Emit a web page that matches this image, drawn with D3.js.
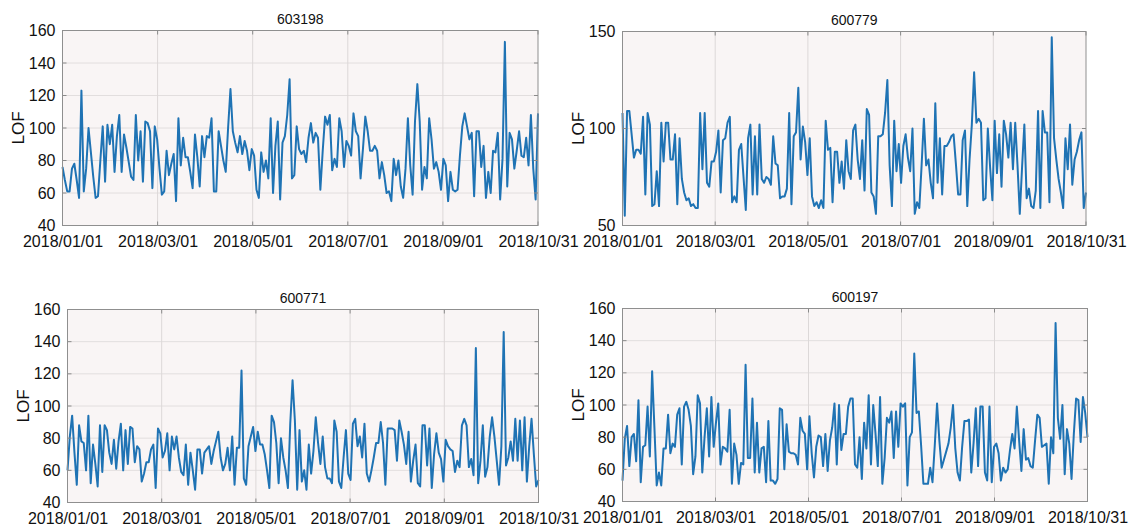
<!DOCTYPE html>
<html>
<head>
<meta charset="utf-8">
<script src="https://cdn.jsdelivr.net/npm/d3@7"></script>
<style>
  html, body { margin: 0; padding: 0; background: #ffffff; }
  svg { display: block; font-family: "Liberation Sans", Arial, Helvetica, sans-serif; }
</style>
</head>
<body>
<svg id="chart" width="1136" height="531"></svg>
<script>
// ---------------- data ----------------
const dateLabels = ["2018/01/01", "2018/03/01", "2018/05/01", "2018/07/01", "2018/09/01", "2018/10/31"];
const titles = ["603198", "600779", "600771", "600197"];

const lof603198 = [
  76,68,61,61,75,78,68,57,123,61,75,100,85,70,57,58,80,101,67,102,90,102,73,95,108,73,96,88,79,70,
  68,108,80,98,67,104,103,98,63,101,93,75,59,61,86,71,78,84,55,106,77,94,82,82,73,63,96,82,64,95,
  82,95,94,106,61,61,98,89,80,73,100,124,
  98,91,85,95,84,92,86,74,87,83,62,57,85,73,80,69,106,60,89,104,56,91,95,108,130,69,71,101,87,84,
  86,79,94,103,91,97,94,62,86,107,102,108,74,81,76,106,98,76,92,89,83,109,98,95,69,87,107,98,86,86,
  89,86,69,79,71,60,
  61,55,81,71,80,64,57,75,106,77,59,104,127,104,62,76,69,106,93,75,79,73,62,81,77,55,73,62,61,62,
  83,101,109,101,93,97,58,98,98,76,89,57,73,60,86,85,97,56,81,153,64,97,93,75,86,98,83,82,94,77,
  108,75,56,109
];

const lof600779 = [
  108,55,109,109,97,85,89,89,87,106,66,108,102,60,61,78,60,103,83,103,103,84,84,97,61,95,74,67,63,64,
  60,61,59,59,108,79,108,72,70,83,83,88,99,67,94,95,103,106,62,65,62,89,92,75,58,95,102,66,96,66,
  102,74,72,75,74,71,96,82,81,64,65,
  65,69,108,61,96,98,121,84,101,93,76,95,65,60,62,59,63,59,104,89,90,62,88,88,72,83,69,94,78,74,
  99,102,84,74,94,68,110,107,67,65,56,96,96,97,108,125,81,60,104,78,92,72,91,97,85,78,100,56,62,59,
  81,105,81,84,72,64,113,72,95,
  66,91,91,93,96,97,82,66,66,94,99,60,84,102,129,103,105,103,63,64,100,80,63,104,77,97,70,104,97,85,
  103,79,103,81,56,80,102,64,69,60,59,68,109,59,109,98,98,62,147,95,84,74,67,59,95,79,102,71,84,88,
  94,98,59,67
];

const lof600771 = [
  60,81,94,71,51,88,78,77,60,94,52,76,64,50,88,59,88,85,71,64,79,61,78,89,60,85,64,87,86,65,
  75,73,53,58,65,65,73,76,49,86,83,68,72,83,60,81,73,81,68,59,57,76,51,71,60,48,73,73,58,71,
  73,75,64,72,78,84,68,60,
  64,74,60,81,51,74,74,122,55,51,75,81,87,72,84,76,76,70,60,49,94,90,77,52,80,68,60,49,89,116,
  91,48,85,53,60,48,76,58,72,93,77,64,81,62,55,55,52,91,84,53,49,68,85,58,54,89,92,75,81,68,
  89,58,53,60,68,77,77,90,77,51,
  86,86,86,85,66,91,84,76,64,84,53,66,76,52,50,88,88,63,86,49,70,83,71,67,53,79,75,73,72,59,
  66,62,88,92,88,62,67,57,136,52,66,88,56,62,81,93,81,66,51,75,146,63,68,78,66,92,66,91,60,93,
  53,75,92,70,50,54
];

const lof600197 = [
  53,79,87,62,80,82,65,103,52,74,75,99,68,121,86,50,58,50,73,73,94,70,76,74,94,98,63,99,102,97,
  87,57,68,106,101,58,80,98,68,105,74,89,101,63,74,73,71,97,51,76,69,51,64,63,125,67,67,104,58,89,
  58,73,74,52,90,53,53,51,54,98,97,
  60,88,71,70,70,69,63,92,84,82,60,93,70,55,74,81,80,62,82,59,78,86,101,63,100,72,82,82,99,104,
  104,63,61,80,54,89,73,106,63,100,82,62,105,51,67,92,89,96,67,96,74,101,99,101,50,80,83,132,95,96,
  75,51,51,51,61,52,75,101,
  78,61,66,71,76,86,100,73,58,53,74,90,90,91,58,76,98,62,99,99,58,53,99,52,74,76,70,53,61,58,
  60,72,82,73,99,78,59,85,66,67,62,61,78,94,92,74,75,76,51,80,70,151,92,79,100,57,85,76,54,82,
  104,103,77,105,95,80
];

const yTicks40to160 = [40, 60, 80, 100, 120, 140, 160];
const yTicks50to150 = [50, 100, 150];

// ---------------- layout ----------------
const panels = [
  { title: titles[0], values: lof603198, yDomain: [40, 160], yTicks: yTicks40to160, box: { l: 62.5, t: 30.5, r: 538, b: 225.5 } },
  { title: titles[1], values: lof600779, yDomain: [50, 150], yTicks: yTicks50to150, box: { l: 622.5, t: 31.5, r: 1086, b: 225.5 } },
  { title: titles[2], values: lof600771, yDomain: [40, 160], yTicks: yTicks40to160, box: { l: 67.5, t: 309.5, r: 538.5, b: 502.5 } },
  { title: titles[3], values: lof600197, yDomain: [40, 160], yTicks: yTicks40to160, box: { l: 622.5, t: 308.5, r: 1087.5, b: 501.5 } }
];

const svg = d3.select("#chart");
const FONT = '"Liberation Sans", Arial, Helvetica, sans-serif';

panels.forEach(p => {
  const { l, t, r, b } = p.box;
  const n = p.values.length;
  const x = d3.scaleLinear().domain([0, n - 1]).range([l, r]);
  const y = d3.scaleLinear().domain(p.yDomain).range([b, t]);
  const xTickVals = dateLabels.map((_, k) => k * (n - 1) / (dateLabels.length - 1));

  const g = svg.append("g");

  // plot background
  g.append("rect").attr("x", l).attr("y", t).attr("width", r - l).attr("height", b - t)
    .attr("fill", "#f9f5f5");

  // grid
  g.append("g").selectAll("line").data(p.yTicks.slice(1, -1)).join("line")
    .attr("x1", l).attr("x2", r).attr("y1", d => y(d)).attr("y2", d => y(d))
    .attr("stroke", "#e2dede").attr("stroke-width", 1);
  g.append("g").selectAll("line").data(xTickVals.slice(1, -1)).join("line")
    .attr("x1", d => x(d)).attr("x2", d => x(d)).attr("y1", t).attr("y2", b)
    .attr("stroke", "#dcd8d8").attr("stroke-width", 1);

  // line
  const line = d3.line().x((d, i) => x(i)).y(d => y(d));
  g.append("path").datum(p.values).attr("d", line)
    .attr("fill", "none").attr("stroke", "#1f73b4").attr("stroke-width", 2)
    .attr("stroke-linejoin", "round");

  // inner ticks
  const tl = 4;
  const tk = g.append("g").attr("stroke", "#8a8a8a").attr("stroke-width", 1);
  p.yTicks.forEach(v => {
    tk.append("line").attr("x1", l).attr("x2", l + tl).attr("y1", y(v)).attr("y2", y(v));
    tk.append("line").attr("x1", r).attr("x2", r - tl).attr("y1", y(v)).attr("y2", y(v));
  });
  xTickVals.forEach(v => {
    tk.append("line").attr("x1", x(v)).attr("x2", x(v)).attr("y1", b).attr("y2", b - tl);
    tk.append("line").attr("x1", x(v)).attr("x2", x(v)).attr("y1", t).attr("y2", t + tl);
  });

  // box
  g.append("rect").attr("x", l).attr("y", t).attr("width", r - l).attr("height", b - t)
    .attr("fill", "none").attr("stroke", "#8f8f8f").attr("stroke-width", 1);

  // axes (labels)
  const xAxis = d3.axisBottom(x).tickValues(xTickVals).tickSize(0).tickPadding(10)
    .tickFormat((d, i) => dateLabels[i]);
  const gx = g.append("g").attr("transform", `translate(0,${b})`).call(xAxis);
  gx.select(".domain").remove();
  gx.selectAll("text").attr("font-size", 16).attr("font-family", FONT).attr("fill", "#111");

  const yAxis = d3.axisLeft(y).tickValues(p.yTicks).tickSize(0).tickPadding(7);
  const gy = g.append("g").attr("transform", `translate(${l},0)`).call(yAxis);
  gy.select(".domain").remove();
  gy.selectAll("text").attr("font-size", 16).attr("font-family", FONT).attr("fill", "#111");

  // y label
  g.append("text").attr("transform", `translate(${l - 39},${(t + b) / 2}) rotate(-90)`)
    .attr("text-anchor", "middle").attr("font-size", 17).attr("font-family", FONT)
    .attr("fill", "#111").text("LOF");

  // title
  g.append("text").attr("x", (l + r) / 2).attr("y", t - 7)
    .attr("text-anchor", "middle").attr("font-size", 14).attr("font-family", FONT)
    .attr("fill", "#111").text(p.title);
});
</script>
</body>
</html>
